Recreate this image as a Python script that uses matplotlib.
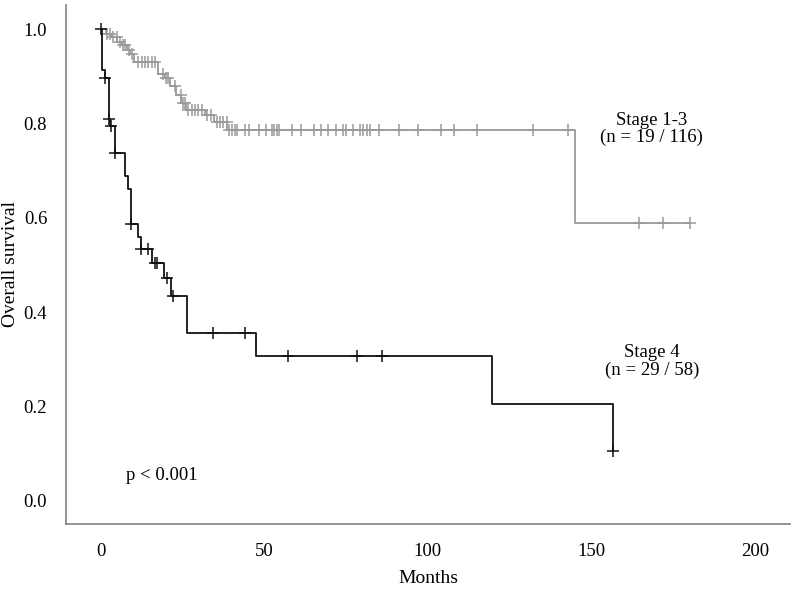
import numpy as np
import matplotlib
matplotlib.use("Agg")
import matplotlib.pyplot as plt

# Kaplan-Meier curves, overall survival by stage

# Stage 1-3 (grey): event times (months) and survival after each event
early_times = [0, 1.5, 3.0, 5.0, 6.5, 8.0, 9.0, 10.2, 17.4, 19.5, 21.0, 23.0,
               24.5, 26.0, 31.8, 34.5, 38.6, 145.0]
early_surv = [1.0, 0.991, 0.983, 0.974, 0.966, 0.957, 0.948, 0.931, 0.905, 0.896,
              0.879, 0.861, 0.844, 0.829, 0.818, 0.803, 0.786, 0.589]
early_censor = [1.7, 2.8, 3.8, 4.8, 5.8, 6.8, 7.3, 8.5, 9.4, 11.4, 12.4, 13.5,
                14.5, 15.5, 16.5, 19.1, 19.9, 20.6, 22.6, 24.4, 25.0, 25.7,
                26.7, 27.7, 28.7, 29.8, 30.8, 32.3, 33.8, 35.4, 36.4, 37.4, 38.4,
                39.2, 40.1, 40.9, 41.7, 44.2, 45.3, 48.3, 50.4, 52.2, 53.0, 53.8,
                54.6, 58.3, 61.1, 65.2, 67.3, 69.3, 71.9, 74.1, 75.1, 77.2, 79.2,
                80.2, 81.3, 82.3, 85.1, 91.1, 97.0, 104.0, 108.0, 114.9, 132.0,
                142.7, 164.6, 171.8, 180.3]

# Stage 4 (black)
late_times = [0, 0.4, 1.2, 2.5, 2.9, 4.2, 7.3, 8.4, 9.2, 11.4, 12.2, 15.5,
              19.3, 21.3, 26.4, 47.4, 119.6, 156.7]
late_surv = [1.0, 0.913, 0.896, 0.81, 0.796, 0.737, 0.688, 0.662, 0.586, 0.559,
             0.534, 0.504, 0.473, 0.435, 0.356, 0.306, 0.205, 0.105]
late_censor = [0, 1.3, 2.5, 3.2, 4.2, 9.2, 12.2, 14.5, 16.5, 17.2, 20.3, 22.1,
               34.4, 44.2, 57.1, 78.2, 86.0, 156.7]

x_ticks = [0, 50, 100, 150, 200]
y_ticks = [0.0, 0.2, 0.4, 0.6, 0.8, 1.0]

plt.rcParams['font.family'] = ['Liberation Serif', 'DejaVu Serif']


def plot_km(ax, times, surv, censor, color, ms):
    times = np.array(times)
    surv = np.array(surv)
    censor = np.array(censor)
    # extend the last step to the last censored case
    t_end = max(times[-1], censor.max())
    t = np.append(times, t_end)
    s = np.append(surv, surv[-1])
    ax.step(t, s, where='post', color=color, lw=1.3)
    # censor marks sit on the curve
    idx = np.searchsorted(times, censor, side='right') - 1
    ax.plot(censor, surv[idx], linestyle='', marker='+', color=color,
            ms=ms, mew=1.1)


fig = plt.figure(figsize=(7.93, 5.93), dpi=100)
ax = fig.add_axes([0.0832, 0.1164, 0.9128, 0.8752])

plot_km(ax, early_times, early_surv, early_censor, '#9a9a9a', 8)
plot_km(ax, late_times, late_surv, late_censor, '#111111', 9)

ax.set_xlim(-10.7, 210.7)
ax.set_ylim(-0.05, 1.052)
ax.set_xticks(x_ticks)
ax.set_yticks(y_ticks)
ax.set_yticklabels(['%.1f' % v for v in y_ticks])
ax.tick_params(length=0, labelsize=13.5)
ax.tick_params(axis='y', pad=13.5)
ax.tick_params(axis='x', pad=14)

for side in ['top', 'right']:
    ax.spines[side].set_visible(False)
for side in ['left', 'bottom']:
    ax.spines[side].set_color('#808080')
    ax.spines[side].set_linewidth(1.2)

ax.set_ylabel('Overall survival', fontsize=14, va='center')
ax.yaxis.set_label_coords(-0.076, 0.5)
ax.set_xlabel('Months', fontsize=14, va='center')
ax.xaxis.set_label_coords(0.5, -0.106)

ax.text(168.5, 0.788, 'Stage 1-3\n(n = 19 / 116)', ha='center', va='center',
        fontsize=13.5, linespacing=1.0)
ax.text(168.5, 0.295, 'Stage 4\n(n = 29 / 58)', ha='center', va='center',
        fontsize=13.5, linespacing=1.0)
ax.text(18.7, 0.053, 'p < 0.001', ha='center', va='center', fontsize=13.5)

fig.savefig('out.png', dpi=100)
